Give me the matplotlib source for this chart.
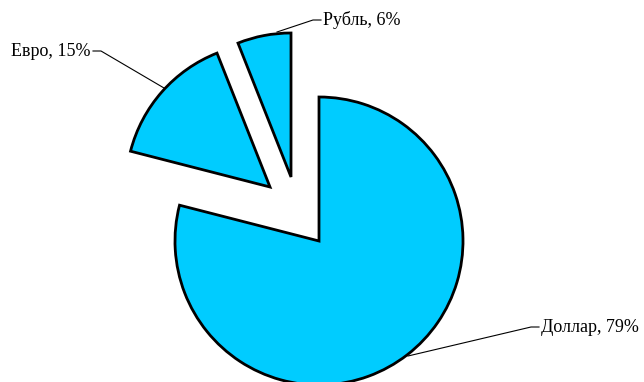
import matplotlib.pyplot as plt

labels = ["Доллар", "Евро", "Рубль"]
shares = [79, 15, 6]

W, H = 644, 382
fill = "#00CCFF"
radius = 144
# pixel positions of each wedge's vertex (y measured from the bottom)
centers = [(319, 141), (270, 195), (291, 205)]

fig = plt.figure(figsize=(W / 100, H / 100), dpi=100)
ax = fig.add_axes([0, 0, 1, 1])

wedges, _ = ax.pie(shares, startangle=90, counterclock=False, radius=radius,
                   center=centers[0], colors=[fill] * 3, frame=True,
                   wedgeprops=dict(edgecolor="black", linewidth=2))
for w, c in zip(wedges, centers):
    w.set_center(c)
ax.set_xlim(0, W)
ax.set_ylim(0, H)
ax.set_aspect("equal")
ax.axis("off")

# label text position, leader end on the wedge, alignment
label_pos = [((541, H - 327), (408, H - 356), "left"),
             ((91, H - 51), (164, H - 88), "right"),
             ((323, H - 20), (277, H - 32), "left")]
for name, val, (txt, tip, ha) in zip(labels, shares, label_pos):
    knee = (txt[0] - 10 if ha == "left" else txt[0] + 10, txt[1])
    ax.plot([tip[0], knee[0], txt[0] - (2 if ha == "left" else -2)],
            [tip[1], knee[1], knee[1]], color="black", lw=0.8)
    ax.text(txt[0], txt[1], f"{name}, {val}%", ha=ha, va="center",
            family="Liberation Serif", fontsize=13)

fig.savefig("out.png", dpi=100)
